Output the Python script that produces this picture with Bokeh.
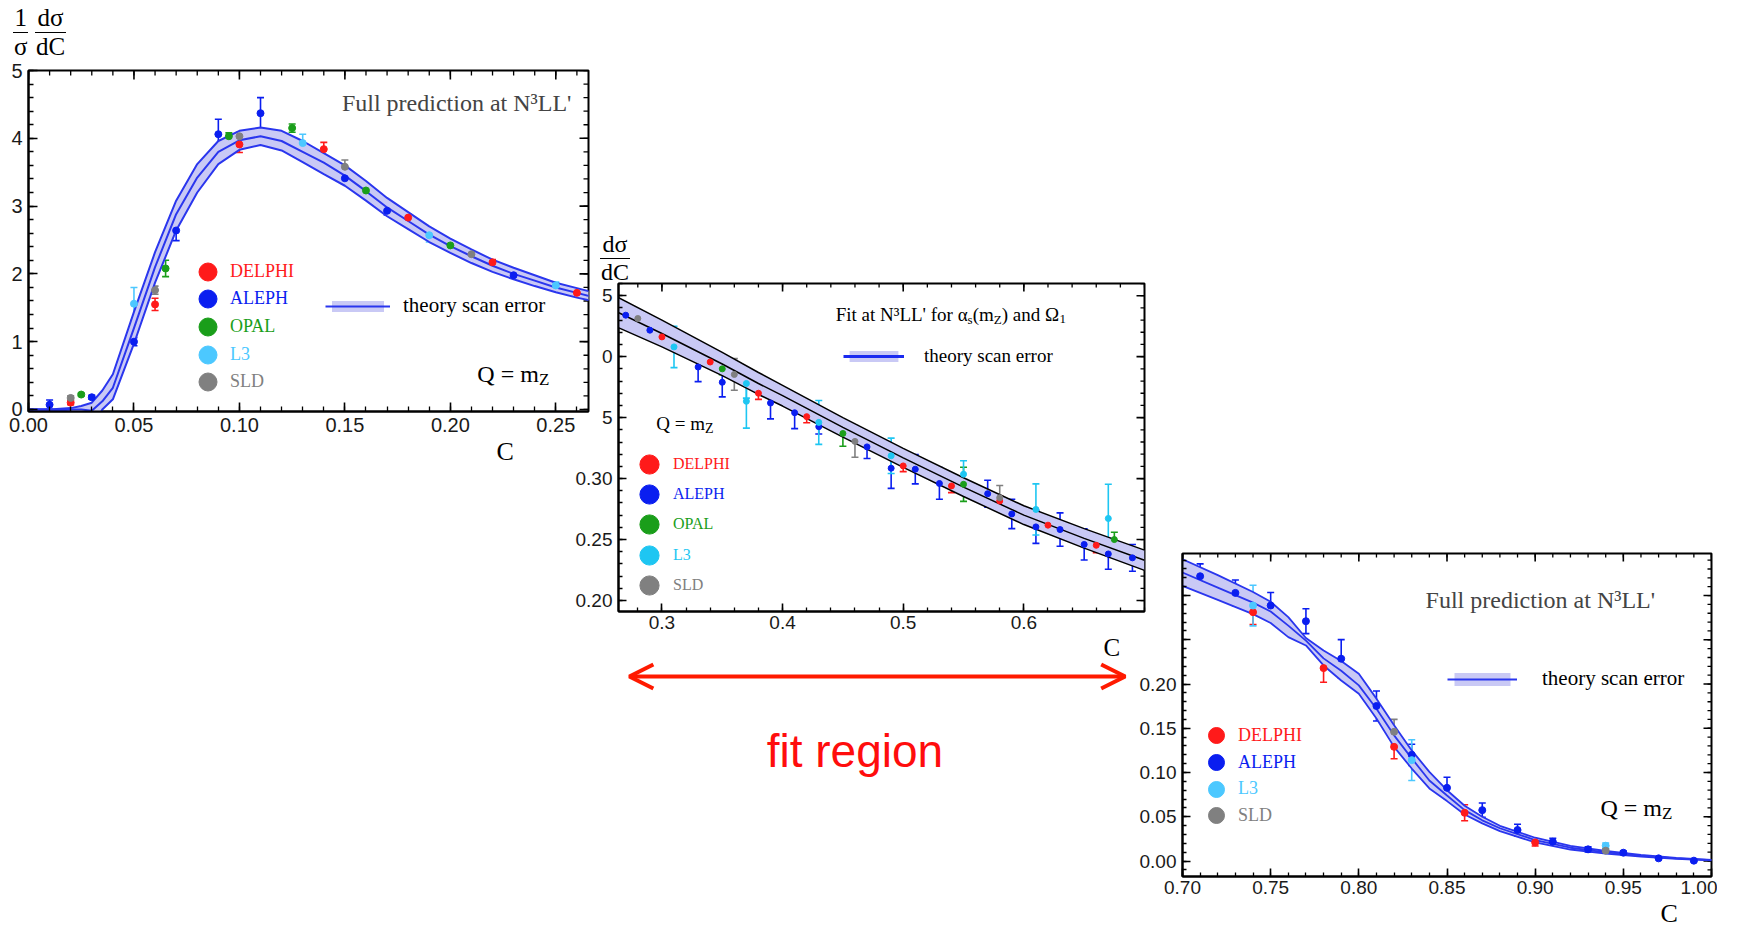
import numpy as np
from bokeh.plotting import figure
from bokeh.layouts import row, column
from bokeh.models import (ColumnDataSource, Range1d, LinearAxis, FixedTicker, NumeralTickFormatter,
                          Whisker, TeeHead, Legend, LegendItem, Label, Arrow, OpenHead, Title, Div)
from bokeh.embed import file_html
from bokeh.resources import INLINE

SERIF = "Liberation Serif"
SANS = "Liberation Sans"
COL = {"DELPHI": "#ff1a1a", "ALEPH": "#0a1ef0", "OPAL": "#1a9e1a", "L3": "#4cc8ff", "SLD": "#808080"}
BAND_FILL = "#c9c9f5"
BAND_LINE = "#2a36ee"
FIT_RED = "#ff1a00"

# ---------------- Panel 1: full prediction, C in [0, 0.27] ----------------
P1_BAND_C = [0.00, 0.01, 0.02, 0.025, 0.03, 0.035, 0.04, 0.05, 0.06, 0.07, 0.08, 0.09, 0.10, 0.11, 0.12,
             0.13, 0.14, 0.15, 0.16, 0.17, 0.18, 0.19, 0.20, 0.21, 0.22, 0.23, 0.24, 0.25, 0.26, 0.27]
P1_BAND_MID = [0.0, 0.0, 0.0, 0.0, -0.02, 0.12, 0.32, 1.20, 2.10, 2.88, 3.42, 3.80, 3.97, 4.03, 3.96,
               3.80, 3.64, 3.45, 3.22, 2.98, 2.78, 2.58, 2.41, 2.26, 2.12, 2.00, 1.90, 1.80, 1.72, 1.64]
P1_BAND_HI = [0.0, 0.0, 0.02, 0.05, 0.10, 0.28, 0.52, 1.44, 2.32, 3.08, 3.62, 3.96, 4.11, 4.16, 4.11,
              3.96, 3.78, 3.60, 3.37, 3.12, 2.91, 2.70, 2.52, 2.36, 2.21, 2.09, 1.98, 1.87, 1.79, 1.71]
P1_BAND_LO = [0.0, 0.0, -0.03, -0.10, -0.30, 0.00, 0.15, 0.97, 1.87, 2.64, 3.20, 3.62, 3.83, 3.90, 3.82,
              3.65, 3.47, 3.30, 3.08, 2.85, 2.66, 2.47, 2.31, 2.16, 2.03, 1.92, 1.82, 1.73, 1.65, 1.58]

P1_DELPHI_C = [0.02, 0.06, 0.10, 0.14, 0.18, 0.22, 0.26]
P1_DELPHI_Y = [0.10, 1.55, 3.91, 3.84, 2.83, 2.17, 1.72]
P1_DELPHI_E = [0.03, 0.09, 0.12, 0.10, 0.05, 0.04, 0.03]
P1_ALEPH_C = [0.01, 0.03, 0.05, 0.07, 0.09, 0.11, 0.15, 0.17, 0.23]
P1_ALEPH_Y = [0.07, 0.18, 1.00, 2.64, 4.06, 4.37, 3.41, 2.93, 1.98]
P1_ALEPH_E = [0.07, 0.03, 0.06, 0.15, 0.22, 0.23, 0.06, 0.06, 0.03]
P1_OPAL_C = [0.025, 0.065, 0.095, 0.125, 0.16, 0.20]
P1_OPAL_Y = [0.22, 2.08, 4.03, 4.15, 3.23, 2.42]
P1_OPAL_E = [0.02, 0.12, 0.05, 0.06, 0.05, 0.07]
P1_L3_C = [0.05, 0.13, 0.19, 0.25]
P1_L3_Y = [1.56, 3.93, 2.57, 1.83]
P1_L3_E = [0.24, 0.13, 0.10, 0.05]
P1_SLD_C = [0.02, 0.06, 0.10, 0.15, 0.21]
P1_SLD_Y = [0.17, 1.76, 4.03, 3.58, 2.29]
P1_SLD_E = [0.03, 0.06, 0.06, 0.10, 0.04]

# ---------------- Panel 2: fit region, C in [0.26, 0.70] ----------------
P2_BAND_C = [0.26, 0.30, 0.35, 0.38, 0.40, 0.45, 0.50, 0.55, 0.60, 0.65, 0.70]
P2_BAND_MID = [0.438, 0.419, 0.394, 0.378, 0.368, 0.342, 0.317, 0.293, 0.270, 0.251, 0.233]
P2_BAND_HI = [0.4505, 0.430, 0.4035, 0.387, 0.3765, 0.350, 0.3248, 0.3007, 0.2777, 0.259, 0.2413]
P2_BAND_LO = [0.4255, 0.408, 0.3845, 0.369, 0.3595, 0.334, 0.3092, 0.2853, 0.2623, 0.243, 0.2247]

P2_DELPHI_C = [0.30, 0.34, 0.38, 0.42, 0.50, 0.54, 0.58, 0.62, 0.66]
P2_DELPHI_Y = [0.4162, 0.3956, 0.370, 0.3508, 0.3104, 0.294, 0.2816, 0.2618, 0.2453]
P2_DELPHI_E = [0.005, 0.0047, 0.005, 0.005, 0.0047, 0.0055, 0.004, 0.0055, 0.006]
P2_ALEPH_C = [0.27, 0.29, 0.33, 0.35, 0.39, 0.41, 0.43, 0.47, 0.49, 0.51, 0.53, 0.57, 0.59, 0.61, 0.63,
              0.65, 0.67, 0.69]
P2_ALEPH_Y = [0.434, 0.4217, 0.3915, 0.379, 0.362, 0.354, 0.3426, 0.326, 0.3085, 0.3077, 0.296, 0.2876,
              0.271, 0.2604, 0.2582, 0.246, 0.2382, 0.235]
P2_ALEPH_E = [0.005, 0.005, 0.012, 0.012, 0.013, 0.013, 0.006, 0.0095, 0.0165, 0.012, 0.013, 0.011,
              0.012, 0.0135, 0.0137, 0.0128, 0.0126, 0.011]
P2_OPAL_C = [0.35, 0.45, 0.55, 0.675]
P2_OPAL_Y = [0.39, 0.337, 0.2953, 0.25]
P2_OPAL_E = [0.0047, 0.0105, 0.014, 0.006]
P2_L3_C = [0.31, 0.37, 0.37, 0.43, 0.49, 0.55, 0.61, 0.67]
P2_L3_Y = [0.408, 0.378, 0.3634, 0.3461, 0.3187, 0.3036, 0.2747, 0.2673]
P2_L3_E = [0.017, 0.012, 0.022, 0.018, 0.0145, 0.011, 0.021, 0.028]
P2_SLD_C = [0.28, 0.36, 0.46, 0.58]
P2_SLD_Y = [0.4313, 0.3854, 0.3305, 0.2843]
P2_SLD_E = [0.007, 0.013, 0.013, 0.010]

# ---------------- Panel 3: tail, C in [0.70, 1.00] ----------------
P3_BAND_C = [0.70, 0.72, 0.74, 0.75, 0.76, 0.77, 0.78, 0.79, 0.80, 0.81, 0.82, 0.83, 0.84, 0.85, 0.86,
             0.87, 0.88, 0.90, 0.92, 0.94, 0.96, 0.98, 1.00]
P3_BAND_MID = [0.326, 0.309, 0.292, 0.282, 0.266, 0.249, 0.229, 0.215, 0.1985, 0.172, 0.142, 0.116, 0.091,
               0.074, 0.0575, 0.046, 0.037, 0.0237, 0.015, 0.0098, 0.006, 0.003, 0.0011]
P3_BAND_HI = [0.341, 0.323, 0.304, 0.293, 0.2756, 0.252, 0.238, 0.226, 0.2117, 0.1835, 0.1534, 0.125, 0.1008,
              0.080, 0.0624, 0.050, 0.0398, 0.0263, 0.017, 0.0113, 0.007, 0.0036, 0.0014]
P3_BAND_LO = [0.311, 0.295, 0.279, 0.269, 0.253, 0.2436, 0.221, 0.204, 0.189, 0.161, 0.129, 0.1045, 0.082,
              0.0677, 0.0526, 0.0425, 0.0338, 0.021, 0.013, 0.0083, 0.005, 0.0024, 0.0008]

P3_DELPHI_C = [0.74, 0.78, 0.82, 0.86, 0.90]
P3_DELPHI_Y = [0.2812, 0.218, 0.129, 0.0545, 0.021]
P3_DELPHI_E = [0.014, 0.016, 0.0135, 0.009, 0.004]
P3_ALEPH_C = [0.71, 0.73, 0.75, 0.77, 0.79, 0.81, 0.83, 0.85, 0.87, 0.89, 0.91, 0.93, 0.95, 0.97, 0.99]
P3_ALEPH_Y = [0.3218, 0.303, 0.2887, 0.271, 0.2286, 0.1752, 0.120, 0.0827, 0.0575, 0.035, 0.0218, 0.0132,
              0.0094, 0.003, 0.0004]
P3_ALEPH_E = [0.014, 0.0145, 0.0147, 0.014, 0.0216, 0.017, 0.012, 0.012, 0.008, 0.0066, 0.004, 0.003,
              0.002, 0.001, 0.001]
P3_L3_C = [0.74, 0.83, 0.94]
P3_L3_Y = [0.2887, 0.114, 0.0173]
P3_L3_E = [0.023, 0.023, 0.003]
P3_SLD_C = [0.82, 0.94]
P3_SLD_Y = [0.146, 0.0117]
P3_SLD_E = [0.014, 0.002]

# tick labels
P1_XTICKS = [0.0, 0.05, 0.10, 0.15, 0.20, 0.25]
P1_YTICKS = [0, 1, 2, 3, 4, 5]
P2_XTICKS = [0.3, 0.4, 0.5, 0.6]
P2_YTICKS = [0.20, 0.25, 0.30, 0.35, 0.40, 0.45]
P2_YLABELS = {0.35: "5", 0.40: "0", 0.45: "5"}
P3_XTICKS = [0.70, 0.75, 0.80, 0.85, 0.90, 0.95, 1.00]
P3_YTICKS = [0.0, 0.05, 0.10, 0.15, 0.20, 0.25, 0.30]
P3_YLABELS = {0.25: "", 0.30: ""}
FIT_LO, FIT_HI = 0.273, 0.684

# ---------------- helpers ----------------
WID = {'F': .556, 'u': .5, 'l': .278, ' ': .25, 'p': .5, 'r': .333, 'e': .444, 'd': .5, 'i': .278,
       'c': .444, 't': .278, 'o': .5, 'n': .5, 'a': .444, 'N': .722, '³': .3, 'L': .611, "'": .18,
       'f': .333, 'α': .52, 's': .389, '(': .333, 'm': .778, 'Z': .611, ')': .333, 'Ω': .768,
       '1': .5, 'Q': .722, '=': .564}


def text_w(s, px):
    return sum(WID.get(ch, .5) for ch in s) * px


def rich(p, x, y, parts, color="black"):
    off = 0.0
    for txt, px, dy in parts:
        p.add_layout(Label(x=x, y=y, x_offset=off, y_offset=dy, text=txt, text_font=SERIF,
                           text_font_size=f"{px}px", text_color=color, text_align="left",
                           text_baseline="middle"))
        off += text_w(txt, px)


def in_range(vals, r):
    return [v for v in vals if r[0] - 1e-9 <= v <= r[1] + 1e-9]


def make_panel(xr, yr, xt, xminor, yt, yminor, xfmt, yfmt, fw, fh, left, right, top, bottom,
               font_px, major_in, minor_in, c_offset, c_px, yover=None, xstand=6):
    p = figure(frame_width=fw, frame_height=fh, x_range=Range1d(*xr), y_range=Range1d(*yr),
               x_axis_type=None, y_axis_type=None, output_backend="svg", toolbar_location=None,
               min_border_left=left, min_border_right=right, min_border_top=top,
               min_border_bottom=bottom, background_fill_color="white", border_fill_alpha=0,
               outline_line_color="black", outline_line_width=2)

    def mk(ticks, minor, fmt, stand, over=None):
        ax = LinearAxis(ticker=FixedTicker(ticks=ticks, minor_ticks=minor),
                        formatter=NumeralTickFormatter(format=fmt),
                        axis_line_color="black", axis_line_width=2,
                        major_tick_in=major_in, major_tick_out=0, minor_tick_in=minor_in,
                        minor_tick_out=0, major_tick_line_color="black", major_tick_line_width=1.6,
                        minor_tick_line_color="black", minor_tick_line_width=1.3,
                        major_label_text_font=SANS, major_label_text_color="#1a1a1a",
                        major_label_text_font_size=f"{font_px}px", major_label_standoff=stand)
        if over:
            ax.major_label_overrides = over
        return ax

    p.add_layout(mk(xt, xminor, xfmt, xstand), "below")
    p.add_layout(mk(yt, yminor, yfmt, 6, yover), "left")
    p.add_layout(Title(text="C", align="left", offset=c_offset, standoff=0, text_font=SERIF,
                       text_font_size=f"{c_px}px", text_font_style="normal", text_color="black"),
                 "below")
    # mirrored ticks on the top and right edges
    xm, xM = in_range(xminor, xr), in_range(xt, xr)
    ym, yM = in_range(yminor, yr), in_range(yt, yr)
    for ticks, ln, lw in ((xm, minor_in, 1.3), (xM, major_in, 1.6)):
        p.ray(x=ticks, y=[yr[1]] * len(ticks), length=ln, angle=-np.pi / 2, length_units="screen",
              line_color="black", line_width=lw)
    for ticks, ln, lw in ((ym, minor_in, 1.3), (yM, major_in, 1.6)):
        p.ray(x=[xr[1]] * len(ticks), y=ticks, length=ln, angle=np.pi, length_units="screen",
              line_color="black", line_width=lw)
    return p


def draw_band(p, c, lo, mid, hi, lc, lw):
    band = p.varea(x=c, y1=lo, y2=hi, fill_color=BAND_FILL, fill_alpha=1.0)
    p.line(c, lo, line_color=lc, line_width=lw)
    p.line(c, hi, line_color=lc, line_width=lw)
    m = p.line(c, mid, line_color=lc, line_width=lw)
    return band, m


def draw_exp(p, c, y, e, color, size):
    src = ColumnDataSource(dict(x=c, y=y, upper=[a + b for a, b in zip(y, e)],
                                lower=[a - b for a, b in zip(y, e)]))
    p.add_layout(Whisker(source=src, base="x", upper="upper", lower="lower", line_color=color,
                         line_width=1.6,
                         upper_head=TeeHead(size=7, line_color=color, line_width=1.6),
                         lower_head=TeeHead(size=7, line_color=color, line_width=1.6)))
    return p.scatter("x", "y", source=src, size=size, fill_color=color, line_color=color)


def exp_legend(p, r, name, color, cx, cy, diam, font_px, text_start):
    g = int(round(diam / 0.4))
    leg = Legend(items=[LegendItem(label=name, renderers=[r])], location=(cx - g / 2, cy - g / 2),
                 glyph_width=g, glyph_height=g, label_height=g,
                 label_standoff=int(round(text_start - (cx + g / 2))),
                 padding=0, margin=0, spacing=0, border_line_alpha=0, background_fill_alpha=0,
                 label_text_color=color, label_text_font=SERIF, label_text_font_size=f"{font_px}px")
    p.add_layout(leg)


def theory_legend(p, rs, x0, cy, w, h, font_px, standoff):
    leg = Legend(items=[LegendItem(label="theory scan error", renderers=rs)],
                 location=(x0, cy - h / 2), glyph_width=w, glyph_height=h, label_height=h,
                 label_standoff=standoff, padding=0, margin=0, spacing=0, border_line_alpha=0,
                 background_fill_alpha=0, label_text_color="black", label_text_font=SERIF,
                 label_text_font_size=f"{font_px}px")
    p.add_layout(leg)


def frac_div(w, h, items, px):
    blocks = []
    for num, den, left, top in items:
        blocks.append(
            f'<div style="position:absolute;left:{left}px;top:{top}px;display:flex;'
            f'flex-direction:column;align-items:stretch;text-align:center;'
            f"font-family:'Liberation Serif';font-size:{px}px;line-height:1;color:black;\">"
            f'<span style="padding:0 1px 2px 1px;border-bottom:1.6px solid black;">{num}</span>'
            f'<span style="padding:1px 1px 0 1px;">{den}</span></div>')
    html = f'<div style="position:relative;width:{w}px;height:{h}px;">' + "".join(blocks) + "</div>"
    return Div(text=html, width=w, height=h, margin=0)


def minor(a, b, step):
    return [round(v, 3) for v in np.arange(a, b + step / 2, step)]


# ---------------- Panel 1 ----------------
p1 = make_panel((0.0, 0.2655), (-0.03, 5.0), P1_XTICKS, minor(0.0, 0.27, 0.01), P1_YTICKS,
                minor(0.0, 5.0, 0.2), "0.00", "0", 560, 341, 28, 2, 10, 30, 20, 9, 5, 468, 26)
b1, m1 = draw_band(p1, P1_BAND_C, P1_BAND_LO, P1_BAND_MID, P1_BAND_HI, BAND_LINE, 2)
r1 = {}
r1["DELPHI"] = draw_exp(p1, P1_DELPHI_C, P1_DELPHI_Y, P1_DELPHI_E, COL["DELPHI"], 7)
r1["ALEPH"] = draw_exp(p1, P1_ALEPH_C, P1_ALEPH_Y, P1_ALEPH_E, COL["ALEPH"], 7)
r1["OPAL"] = draw_exp(p1, P1_OPAL_C, P1_OPAL_Y, P1_OPAL_E, COL["OPAL"], 7)
r1["L3"] = draw_exp(p1, P1_L3_C, P1_L3_Y, P1_L3_E, COL["L3"], 7)
r1["SLD"] = draw_exp(p1, P1_SLD_C, P1_SLD_Y, P1_SLD_E, COL["SLD"], 7)
for name, cy in [("DELPHI", 140), ("ALEPH", 112.5), ("OPAL", 85), ("L3", 57), ("SLD", 30)]:
    exp_legend(p1, r1[name], name, COL[name], 179.5, cy, 18, 18, 202)
theory_legend(p1, [b1, m1], 297, 100, 65, 14, 21, 13)
p1.add_layout(Label(x=0.2574, y=4.52, text="Full prediction at N³LL'", text_font=SERIF,
                    text_font_size="24px", text_align="right", text_baseline="middle"))
rich(p1, 0.2128, 0.53, [("Q = m", 24, 0), ("Z", 17, -6)])

d1 = frac_div(590, 60, [("1", "σ", 13, 5), ("dσ", "dC", 35, 5)], 25)
col1 = column(d1, p1)

# ---------------- Panel 2 ----------------
p2 = make_panel((0.264, 0.70), (0.191, 0.46), P2_XTICKS, minor(0.26, 0.70, 0.02), P2_YTICKS,
                minor(0.19, 0.46, 0.01), "0.0", "0.00", 526, 328, 44, 4, 3, 30, 19, 8, 4, 485, 25,
                yover=P2_YLABELS, xstand=4)
b2, m2 = draw_band(p2, P2_BAND_C, P2_BAND_LO, P2_BAND_MID, P2_BAND_HI, "black", 1.5)
r2 = {}
r2["DELPHI"] = draw_exp(p2, P2_DELPHI_C, P2_DELPHI_Y, P2_DELPHI_E, COL["DELPHI"], 6)
r2["ALEPH"] = draw_exp(p2, P2_ALEPH_C, P2_ALEPH_Y, P2_ALEPH_E, COL["ALEPH"], 6)
r2["OPAL"] = draw_exp(p2, P2_OPAL_C, P2_OPAL_Y, P2_OPAL_E, COL["OPAL"], 6)
r2["L3"] = draw_exp(p2, P2_L3_C, P2_L3_Y, P2_L3_E, "#1ec6f2", 6)
r2["SLD"] = draw_exp(p2, P2_SLD_C, P2_SLD_Y, P2_SLD_E, COL["SLD"], 6)
leg_colors2 = dict(COL, L3="#1ec6f2")
for name, cy in [("DELPHI", 147), ("ALEPH", 117), ("OPAL", 87), ("L3", 56), ("SLD", 26)]:
    exp_legend(p2, r2[name], name, leg_colors2[name], 31, cy, 19, 16, 51)
legend_line2 = p2.line(x=P2_BAND_C, y=[float("nan")] * len(P2_BAND_C), line_color="#1a2af0",
                       line_width=3)
theory_legend(p2, [b2, legend_line2], 225, 251, 61, 14, 19, 20)
rich(p2, 0.444, 0.4346, [("Fit at N³LL' for α", 19, 0), ("s", 13, -5), ("(m", 19, 0), ("Z", 13, -5),
                         (") and Ω", 19, 0), ("1", 13, -5)])
rich(p2, 0.2953, 0.345, [("Q = m", 19, 0), ("Z", 14, -5)])

d2 = frac_div(574, 280, [("dσ", "dC", 28, 232)], 24)

pa = figure(frame_width=526, frame_height=120, x_range=p2.x_range, y_range=Range1d(0, 120),
            x_axis_type=None, y_axis_type=None, output_backend="svg", toolbar_location=None,
            min_border_left=44, min_border_right=4, min_border_top=0, min_border_bottom=0,
            outline_line_color=None, background_fill_alpha=0, border_fill_alpha=0)
pa.add_layout(Arrow(x_start=FIT_LO, y_start=104, x_end=FIT_HI, y_end=104, line_color=FIT_RED,
                    line_width=4,
                    start=OpenHead(size=24, line_color=FIT_RED, line_width=4),
                    end=OpenHead(size=24, line_color=FIT_RED, line_width=4)))
pa.add_layout(Label(x=0.46, y=30, text="fit region", text_font=SANS, text_font_size="46px",
                    text_color="#ff0d0d", text_align="center", text_baseline="middle"))
col2 = column(d2, p2, pa, margin=(0, 0, 0, -18))

# ---------------- Panel 3 ----------------
p3 = make_panel((0.70, 1.00), (-0.0175, 0.3475), P3_XTICKS, minor(0.70, 1.00, 0.01), P3_YTICKS,
                minor(-0.01, 0.34, 0.01), "0.00", "0.00", 529, 323, 44, 6, 553, 30, 19, 8, 4, 478, 26,
                yover=P3_YLABELS, xstand=4)
p3.margin = (0, 0, 0, -12)
b3, m3 = draw_band(p3, P3_BAND_C, P3_BAND_LO, P3_BAND_MID, P3_BAND_HI, BAND_LINE, 1.8)
r3 = {}
r3["DELPHI"] = draw_exp(p3, P3_DELPHI_C, P3_DELPHI_Y, P3_DELPHI_E, COL["DELPHI"], 7)
r3["ALEPH"] = draw_exp(p3, P3_ALEPH_C, P3_ALEPH_Y, P3_ALEPH_E, COL["ALEPH"], 7)
r3["L3"] = draw_exp(p3, P3_L3_C, P3_L3_Y, P3_L3_E, COL["L3"], 7)
r3["SLD"] = draw_exp(p3, P3_SLD_C, P3_SLD_Y, P3_SLD_E, COL["SLD"], 7)
for name, cy in [("DELPHI", 141), ("ALEPH", 114), ("L3", 87.5), ("SLD", 61)]:
    exp_legend(p3, r3[name], name, COL[name], 34, cy, 16, 18, 56)
theory_legend(p3, [b3, m3], 265, 193, 70, 16, 21, 25)
p3.add_layout(Label(x=0.968, y=0.295, text="Full prediction at N³LL'", text_font=SERIF,
                    text_font_size="24px", text_align="right", text_baseline="middle"))
rich(p3, 0.937, 0.0600, [("Q = m", 24, 0), ("Z", 17, -6)])

layout = row(col1, col2, p3)
open("out.html", "w").write(file_html(layout, INLINE))
